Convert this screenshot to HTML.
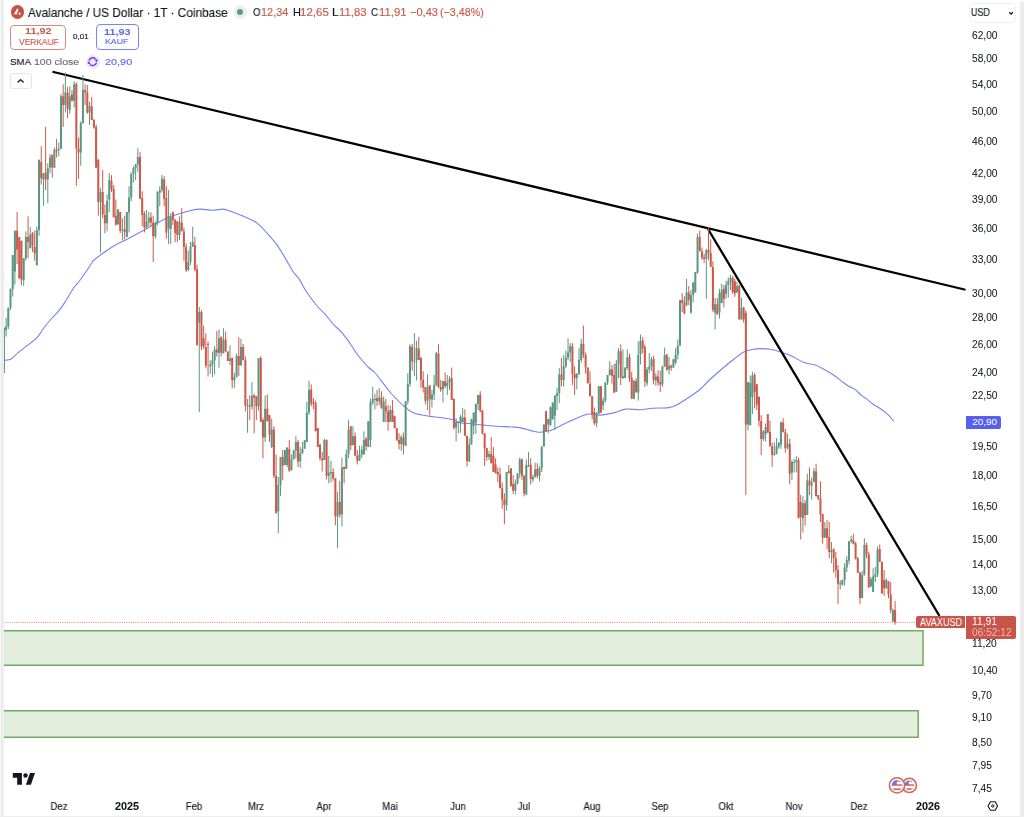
<!DOCTYPE html>
<html><head><meta charset="utf-8">
<style>
*{margin:0;padding:0;box-sizing:border-box}
html,body{width:1024px;height:817px;overflow:hidden;background:#fff}
body{position:relative;font-family:"Liberation Sans",sans-serif;color:#131722}
.abs{position:absolute}
.t{position:absolute;white-space:nowrap;transform-origin:0 0;will-change:transform;-webkit-text-stroke:0.15px}
.pl{position:absolute;left:972px;height:12px;line-height:12px;font-size:10px;color:#131722;white-space:nowrap}
.tl{position:absolute;top:800px;width:60px;text-align:center;height:12px;line-height:12px;font-size:10px;color:#131722}
.tl.b{font-weight:bold}
svg{position:absolute;left:0;top:0}
</style></head><body>
<svg width="1024" height="817" viewBox="0 0 1024 817">
<rect x="-2" y="630.75" width="925" height="34.5" fill="#e2eddc" stroke="#72ad61" stroke-width="1.5"/><rect x="-2" y="710.75" width="920.25" height="26.5" fill="#e2eddc" stroke="#72ad61" stroke-width="1.5"/><line x1="3" y1="622.5" x2="916" y2="622.5" stroke="#e08a80" stroke-width="1" stroke-dasharray="1 1.2"/><path d="M4.75 360.25C5.83 360.04 8.92 360.36 11.25 359.00C13.58 357.64 14.58 355.53 18.75 352.10C22.92 348.67 32.19 342.25 36.25 338.40C40.31 334.55 40.64 332.23 43.10 329.00C45.56 325.77 48.39 322.02 51.00 319.00C53.61 315.98 56.42 313.72 58.75 310.90C61.08 308.08 62.50 305.96 65.00 302.10C67.50 298.24 71.25 291.39 73.75 287.75C76.25 284.11 77.08 284.21 80.00 280.25C82.92 276.29 88.92 267.38 91.25 264.00C93.58 260.62 90.26 263.00 94.00 260.00C97.74 257.00 108.03 249.54 113.70 246.00C119.37 242.46 122.91 241.42 128.00 238.75C133.09 236.08 138.00 233.33 144.25 230.00C150.50 226.67 159.25 221.57 165.50 218.75C171.75 215.93 177.17 214.56 181.75 213.10C186.33 211.64 189.88 210.67 193.00 210.00C196.12 209.33 197.17 209.06 200.50 209.10C203.83 209.14 209.25 210.25 213.00 210.25C216.75 210.25 220.08 208.93 223.00 209.10C225.92 209.27 227.58 210.27 230.50 211.25C233.42 212.23 237.25 213.68 240.50 215.00C243.75 216.32 247.23 217.85 250.00 219.20C252.77 220.55 254.43 220.97 257.10 223.10C259.77 225.23 262.75 228.45 266.00 232.00C269.25 235.55 273.35 239.97 276.60 244.40C279.85 248.83 282.83 254.17 285.50 258.60C288.17 263.03 290.23 267.45 292.60 271.00C294.97 274.55 297.33 276.35 299.70 279.90C302.07 283.45 303.83 287.87 306.80 292.30C309.77 296.73 314.53 302.95 317.50 306.50C320.47 310.05 321.95 310.63 324.60 313.60C327.25 316.57 330.45 321.05 333.40 324.30C336.35 327.55 339.48 329.85 342.30 333.10C345.12 336.35 348.02 340.57 350.30 343.80C352.58 347.03 354.43 350.22 356.00 352.50C357.57 354.78 357.67 355.00 359.75 357.50C361.83 360.00 366.00 365.00 368.50 367.50C371.00 370.00 372.17 369.68 374.75 372.50C377.33 375.32 381.21 380.86 384.00 384.40C386.79 387.94 388.17 390.11 391.50 393.75C394.83 397.39 400.25 403.02 404.00 406.25C407.75 409.48 409.83 411.43 414.00 413.10C418.17 414.77 424.62 415.52 429.00 416.25C433.38 416.98 436.08 416.88 440.25 417.50C444.42 418.12 450.88 419.18 454.00 420.00C457.12 420.82 457.17 421.86 459.00 422.40C460.83 422.94 459.83 422.69 465.00 423.25C470.17 423.81 482.17 425.12 490.00 425.75C497.83 426.38 507.08 426.69 512.00 427.00C516.92 427.31 515.33 426.77 519.50 427.60C523.67 428.43 533.04 431.31 537.00 432.00C540.96 432.69 540.54 432.17 543.25 431.75C545.96 431.33 549.08 431.12 553.25 429.50C557.42 427.88 562.62 424.54 568.25 422.00C573.88 419.46 581.79 415.40 587.00 414.25C592.21 413.10 594.92 415.38 599.50 415.10C604.08 414.83 610.12 413.60 614.50 412.60C618.88 411.60 621.50 409.57 625.75 409.10C630.00 408.63 635.54 409.94 640.00 409.80C644.46 409.66 647.71 408.62 652.50 408.25C657.29 407.88 664.58 408.23 668.75 407.60C672.92 406.98 674.38 406.06 677.50 404.50C680.62 402.94 683.75 400.75 687.50 398.25C691.25 395.75 696.25 392.62 700.00 389.50C703.75 386.38 706.46 382.83 710.00 379.50C713.54 376.17 717.08 373.04 721.25 369.50C725.42 365.96 731.25 361.17 735.00 358.25C738.75 355.33 740.83 353.46 743.75 352.00C746.67 350.54 749.79 350.07 752.50 349.50C755.21 348.93 757.04 348.64 760.00 348.60C762.96 348.56 766.88 348.73 770.25 349.25C773.62 349.77 776.71 350.61 780.25 351.75C783.79 352.89 787.54 354.33 791.50 356.10C795.46 357.88 800.00 360.90 804.00 362.40C808.00 363.90 812.05 363.88 815.50 365.10C818.95 366.32 821.63 368.02 824.70 369.70C827.77 371.38 831.00 373.22 833.90 375.20C836.80 377.18 839.65 379.77 842.10 381.60C844.55 383.43 846.45 384.90 848.60 386.20C850.75 387.50 852.87 387.87 855.00 389.40C857.13 390.93 859.42 393.78 861.40 395.40C863.38 397.02 865.07 397.72 866.90 399.10C868.73 400.48 870.25 402.17 872.40 403.70C874.55 405.23 877.20 406.47 879.80 408.30C882.40 410.13 885.63 412.48 888.00 414.70C890.37 416.92 893.00 420.45 894.00 421.60" fill="none" stroke="#7582f2" stroke-width="1.1"/><line x1="53.5" y1="72" x2="964.5" y2="289.5" stroke="#000" stroke-width="2.3" stroke-linecap="round"/><line x1="708" y1="229" x2="939.5" y2="616" stroke="#000" stroke-width="2.3"/><path d="M3.93 327.75V373.00M6.12 317.75V336.50M8.31 307.75V329.00M10.51 288.38V310.25M12.70 255.12V296.50M14.90 230.75V284.62M23.68 258.25V285.88M25.88 231.38V260.75M30.27 227.00V248.25M36.85 226.38V265.25M39.05 159.38V235.75M43.44 173.25V205.75M47.82 163.25V203.25M50.02 153.75V173.25M54.41 147.50V167.62M58.80 142.50V156.25M60.99 93.75V148.75M65.38 72.50V112.50M69.77 86.25V113.75M74.16 81.25V107.50M80.75 121.25V165.75M82.94 75.00V123.75M89.53 101.88V125.00M100.50 188.25V252.62M107.09 194.50V231.38M109.28 173.25V212.00M118.06 209.50V224.50M122.45 218.25V240.12M126.84 212.00V237.00M129.04 186.25V232.50M131.23 172.50V201.25M133.43 166.25V182.50M135.62 163.75V180.00M137.82 148.12V172.50M146.60 210.00V228.75M148.79 211.88V226.25M155.38 221.25V238.75M157.57 191.25V225.00M159.77 186.25V206.25M161.96 175.00V192.50M168.55 190.00V243.88M170.75 213.12V243.88M179.52 216.25V240.00M188.31 250.75V271.38M190.50 242.00V265.12M192.69 226.88V247.00M199.28 307.00V412.12M210.25 360.25V374.00M212.45 351.50V377.12M214.64 345.88V374.62M219.03 329.50V367.75M223.43 328.25V353.38M230.01 345.25V365.25M234.40 372.75V387.75M236.59 353.38V377.12M240.98 338.88V365.88M247.57 399.00V432.75M251.96 382.12V409.62M258.54 358.12V410.62M265.13 395.62V442.00M271.71 418.75V448.25M278.30 477.00V533.25M280.50 457.00V495.75M284.88 450.12V465.12M287.08 447.62V467.00M291.47 454.50V470.75M293.66 449.50V459.50M295.86 436.25V458.25M300.25 447.00V467.62M302.44 442.00V453.88M304.64 440.00V448.88M306.83 401.88V442.00M309.03 380.62V415.00M324.39 438.75V460.12M328.78 455.75V483.25M330.98 460.75V482.62M337.56 492.00V548.00M341.95 457.62V526.38M346.34 449.50V468.88M348.54 420.00V458.25M352.93 426.25V445.12M359.51 445.75V460.75M361.71 445.75V458.25M363.90 431.25V454.50M368.30 421.25V447.00M370.49 398.75V447.00M372.69 386.88V405.00M374.88 393.75V409.38M379.27 388.12V405.00M383.66 396.25V422.00M390.25 405.62V422.00M401.22 435.12V450.75M405.61 401.25V445.75M407.81 373.12V404.38M410.00 344.38V386.88M414.39 333.12V376.25M416.58 340.62V380.62M427.56 374.38V410.00M431.95 390.00V407.50M434.14 375.00V400.00M436.34 351.88V386.25M442.93 380.62V402.50M447.31 375.00V395.00M449.51 376.25V390.00M456.09 418.12V441.38M458.29 422.00V433.25M460.48 415.00V432.62M462.68 408.12V422.00M469.26 438.25V462.00M471.46 418.75V444.50M473.65 412.50V434.50M475.85 403.75V433.88M478.04 395.00V410.00M489.02 450.75V460.12M506.58 472.00V510.75M508.77 465.12V473.25M515.36 479.50V494.50M517.55 473.25V484.50M519.75 457.62V478.25M526.33 459.50V495.12M528.53 452.00V467.00M532.92 474.50V482.00M535.11 462.62V477.62M539.50 466.38V481.38M541.70 445.75V472.00M543.89 424.50V446.38M548.28 418.88V433.25M550.48 406.25V425.75M552.67 402.50V419.50M554.87 395.62V429.50M557.06 387.50V410.00M559.26 368.12V403.12M563.65 355.00V386.88M565.84 350.62V368.12M568.04 338.12V360.00M570.23 343.12V361.88M576.82 373.12V389.38M579.01 348.12V375.00M581.21 338.75V362.50M596.57 412.00V427.00M598.77 386.25V413.88M603.16 397.50V410.00M605.35 382.50V402.50M607.55 375.00V385.00M609.74 361.25V375.62M616.33 360.00V391.88M618.52 348.12V378.12M622.91 349.38V378.75M625.11 367.50V378.12M627.30 349.38V370.00M633.89 380.62V399.38M638.28 341.25V400.62M640.47 334.50V364.50M647.06 367.00V385.75M649.25 353.25V373.25M651.45 357.00V370.75M655.84 373.25V385.75M662.42 365.75V387.00M664.62 347.62V367.00M669.01 357.00V374.50M673.40 358.88V368.25M675.59 348.25V364.50M677.79 339.50V359.50M679.98 300.00V345.75M686.57 278.75V306.25M690.96 290.00V313.88M693.15 282.50V302.50M695.35 271.88V292.50M697.54 233.75V273.75M706.32 248.75V298.75M715.10 298.00V329.50M719.49 288.75V318.62M721.69 283.75V303.12M726.08 280.62V298.75M728.27 277.50V297.50M730.47 275.00V290.00M737.05 281.88V293.12M741.44 298.00V319.88M748.03 382.00V430.25M750.22 375.50V425.25M752.42 371.75V414.00M763.39 430.25V440.88M765.59 423.38V441.50M774.37 442.50V455.62M776.56 438.12V454.38M778.76 441.88V448.75M780.95 421.25V448.75M787.54 433.75V449.38M791.93 460.00V480.00M794.12 458.75V472.50M796.32 456.25V472.50M802.90 496.25V532.62M807.29 473.75V515.12M811.68 477.50V499.38M813.88 468.12V482.50M824.85 522.00V537.62M831.44 542.00V563.25M840.22 580.12V589.50M842.41 579.50V585.75M844.61 563.25V585.75M846.80 555.75V572.00M849.00 540.75V564.50M851.19 535.75V543.25M862.17 570.75V598.25M864.36 538.25V575.75M870.95 577.00V587.00M873.14 568.25V591.88M875.34 567.00V582.00M877.53 546.38V577.00M886.31 578.25V588.44M892.90 608.44V621.56" stroke="#5a9682" stroke-width="1" fill="none"/><path d="M17.09 212.00V264.00M19.29 237.00V278.38M21.48 240.75V285.25M28.07 216.38V258.25M32.46 232.00V252.00M34.66 230.75V260.75M41.24 146.25V184.50M45.63 126.88V190.12M52.21 154.38V177.62M56.60 138.75V157.50M63.19 84.38V126.88M67.58 86.88V118.12M71.97 90.00V101.25M76.36 82.50V185.75M78.55 137.50V178.88M85.14 84.38V105.00M87.33 85.00V113.75M91.72 96.88V120.00M93.92 118.75V128.75M96.11 124.38V167.62M98.31 158.75V215.75M102.70 170.12V218.25M104.89 204.50V233.25M111.48 175.12V192.00M113.67 185.12V217.62M115.87 199.50V225.75M120.26 212.00V233.25M124.65 215.75V239.50M140.01 151.88V198.75M142.21 191.25V226.25M144.40 211.25V232.50M150.99 212.50V226.25M153.19 215.62V262.00M164.16 176.25V206.25M166.35 186.25V238.75M172.94 211.25V225.00M175.13 218.75V242.00M177.33 221.25V242.00M181.72 208.12V231.25M183.91 227.50V260.75M186.11 243.25V272.00M194.89 236.88V271.38M197.08 264.50V345.25M201.47 310.12V350.25M203.67 325.75V349.00M205.87 333.25V368.38M208.06 341.38V376.50M216.84 330.75V356.50M221.23 336.38V356.50M225.62 331.38V351.50M227.81 351.50V360.88M232.20 357.75V388.38M238.79 337.00V375.88M243.18 344.00V360.25M245.38 356.50V411.50M249.76 395.25V420.25M254.15 394.00V433.38M256.35 396.25V420.00M260.74 356.25V421.88M262.94 418.12V458.25M267.32 394.38V421.25M269.52 415.00V442.00M273.91 426.25V478.25M276.10 454.50V513.88M282.69 450.12V480.12M289.27 440.00V472.00M298.06 440.00V467.00M311.22 384.38V406.25M313.42 398.12V409.38M315.62 400.62V431.25M317.81 428.12V447.00M320.00 444.50V460.75M322.20 452.00V471.38M326.59 439.38V479.50M333.18 468.25V480.75M335.37 478.25V525.12M339.76 480.75V517.62M344.15 466.38V483.25M350.74 426.25V450.12M355.12 432.50V455.75M357.32 450.12V464.50M366.10 436.88V450.75M377.07 390.00V406.25M381.46 391.25V408.75M385.85 398.75V422.00M388.05 405.00V430.75M392.44 400.00V422.00M394.63 415.62V428.25M396.83 428.25V440.75M399.02 433.25V449.50M403.41 432.62V454.50M412.19 343.75V370.62M418.78 336.88V360.00M420.97 356.88V388.12M423.17 371.25V392.50M425.37 386.88V404.38M429.75 385.00V415.62M438.53 344.38V388.12M440.73 380.00V391.88M445.12 372.50V388.12M451.70 367.50V400.00M453.90 398.75V429.50M464.88 409.38V435.75M467.07 435.75V466.38M480.24 391.25V412.50M482.44 410.00V434.50M484.63 433.25V465.75M486.82 447.62V460.75M491.21 437.00V463.25M493.41 447.00V472.00M495.60 458.25V473.25M497.80 467.62V482.00M500.00 467.62V488.25M502.19 482.62V508.88M504.38 493.25V524.00M510.97 468.25V487.00M513.16 475.12V493.88M521.94 458.25V480.12M524.14 475.12V496.38M530.72 458.25V484.50M537.31 463.25V478.25M546.09 410.62V431.38M561.45 358.12V386.25M572.43 343.12V385.00M574.62 366.25V395.00M583.40 325.62V358.12M585.60 352.50V373.75M587.79 367.50V383.75M589.99 371.25V396.25M592.18 396.25V419.50M594.38 407.50V425.12M600.96 386.25V412.62M611.94 365.00V383.75M614.13 363.75V393.12M620.72 344.38V385.00M629.50 353.75V381.88M631.69 371.88V398.75M636.08 378.12V393.12M642.67 337.00V353.25M644.86 344.50V387.00M653.64 355.75V384.50M658.03 370.12V385.75M660.23 370.75V392.00M666.81 354.50V370.75M671.20 364.50V370.75M682.18 293.12V312.00M684.37 296.25V314.50M688.76 286.25V305.00M699.74 230.62V251.25M701.93 247.50V260.00M704.13 253.75V263.12M708.52 227.00V260.00M710.71 239.38V266.88M712.91 261.25V312.00M717.30 298.00V314.50M723.88 285.00V307.38M732.66 276.25V293.75M734.86 278.75V296.88M739.25 285.00V319.88M743.64 306.75V322.62M745.83 310.50V495.25M754.61 373.00V408.25M756.81 383.88V410.12M759.00 396.75V426.50M761.20 415.25V455.25M767.78 414.00V432.75M769.98 420.62V446.25M772.17 442.50V466.88M783.15 418.12V432.50M785.34 428.75V452.50M789.73 438.75V484.38M798.51 457.50V518.25M800.71 495.00V539.50M805.10 500.00V525.75M809.49 467.50V495.00M816.07 463.75V496.25M818.27 495.00V500.00M820.46 481.25V522.00M822.66 513.88V543.88M827.05 520.12V548.88M829.24 522.00V558.25M833.63 548.25V572.62M835.83 552.00V577.62M838.02 565.12V604.00M853.39 533.88V544.50M855.58 542.00V559.50M857.78 557.00V572.62M859.97 572.00V604.00M866.56 542.62V558.25M868.75 552.00V587.62M879.73 544.50V562.00M881.92 561.38V593.44M884.12 570.12V595.94M888.51 581.25V598.12M890.70 582.19V613.12M895.09 600.94V624.69" stroke="#cc594b" stroke-width="1" fill="none"/><path d="M2.93 327.75h2.0v45.25h-2.0zM5.12 326.50h2.0v3.75h-2.0zM7.31 307.75h2.0v18.75h-2.0zM9.51 289.00h2.0v18.75h-2.0zM11.70 255.12h2.0v33.88h-2.0zM13.90 230.75h2.0v40.75h-2.0zM22.68 258.25h2.0v21.38h-2.0zM24.88 237.00h2.0v21.25h-2.0zM29.27 234.50h2.0v13.75h-2.0zM35.85 230.12h2.0v35.12h-2.0zM38.05 160.00h2.0v70.12h-2.0zM42.44 173.25h2.0v6.25h-2.0zM46.82 168.25h2.0v11.25h-2.0zM49.02 157.50h2.0v10.12h-2.0zM53.41 149.38h2.0v18.25h-2.0zM57.80 148.75h2.0v1.25h-2.0zM59.99 96.25h2.0v52.50h-2.0zM64.38 92.50h2.0v12.50h-2.0zM68.77 96.25h2.0v13.75h-2.0zM73.16 84.38h2.0v16.25h-2.0zM79.75 123.12h2.0v29.38h-2.0zM81.94 90.00h2.0v33.12h-2.0zM88.53 106.25h2.0v6.25h-2.0zM99.50 192.00h2.0v10.00h-2.0zM106.09 200.75h2.0v22.50h-2.0zM108.28 180.12h2.0v19.38h-2.0zM117.06 209.50h2.0v15.00h-2.0zM121.45 229.50h2.0v1.25h-2.0zM125.84 212.00h2.0v25.00h-2.0zM128.04 197.50h2.0v15.00h-2.0zM130.23 173.75h2.0v23.75h-2.0zM132.43 168.12h2.0v5.62h-2.0zM134.62 164.38h2.0v3.75h-2.0zM136.82 156.88h2.0v7.50h-2.0zM145.60 221.88h2.0v5.62h-2.0zM147.79 217.50h2.0v5.00h-2.0zM154.38 223.12h2.0v13.12h-2.0zM156.57 191.88h2.0v31.25h-2.0zM158.77 190.00h2.0v2.50h-2.0zM160.96 178.75h2.0v11.25h-2.0zM167.55 216.25h2.0v12.50h-2.0zM169.75 217.50h2.0v11.25h-2.0zM178.52 222.50h2.0v12.50h-2.0zM187.31 262.00h2.0v8.12h-2.0zM189.50 246.38h2.0v15.62h-2.0zM191.69 242.00h2.0v4.38h-2.0zM198.28 312.00h2.0v10.62h-2.0zM209.25 364.62h2.0v1.88h-2.0zM211.45 360.25h2.0v4.38h-2.0zM213.64 349.62h2.0v10.62h-2.0zM218.03 338.25h2.0v14.50h-2.0zM222.43 339.50h2.0v13.88h-2.0zM229.01 358.38h2.0v2.50h-2.0zM233.40 377.12h2.0v3.12h-2.0zM235.59 355.88h2.0v21.25h-2.0zM239.98 347.12h2.0v18.12h-2.0zM246.57 405.25h2.0v1.00h-2.0zM250.96 395.88h2.0v10.62h-2.0zM257.54 358.12h2.0v48.12h-2.0zM264.13 408.75h2.0v28.75h-2.0zM270.71 429.38h2.0v17.62h-2.0zM277.30 485.12h2.0v26.25h-2.0zM279.50 457.00h2.0v28.12h-2.0zM283.88 450.12h2.0v15.00h-2.0zM286.08 447.62h2.0v17.50h-2.0zM290.47 459.50h2.0v10.62h-2.0zM292.66 450.75h2.0v8.75h-2.0zM294.86 442.00h2.0v8.75h-2.0zM299.25 453.25h2.0v8.12h-2.0zM301.44 448.88h2.0v4.38h-2.0zM303.64 440.62h2.0v8.25h-2.0zM305.83 412.50h2.0v29.50h-2.0zM308.03 390.00h2.0v22.50h-2.0zM323.39 440.00h2.0v20.12h-2.0zM327.78 472.62h2.0v3.12h-2.0zM329.98 472.00h2.0v1.25h-2.0zM336.56 502.00h2.0v14.38h-2.0zM340.95 467.62h2.0v46.88h-2.0zM345.34 453.88h2.0v15.00h-2.0zM347.54 429.38h2.0v24.50h-2.0zM351.93 436.25h2.0v8.88h-2.0zM358.51 454.50h2.0v6.25h-2.0zM360.71 450.12h2.0v4.38h-2.0zM362.90 440.00h2.0v14.50h-2.0zM367.30 421.25h2.0v25.75h-2.0zM369.49 401.88h2.0v38.12h-2.0zM371.69 398.75h2.0v3.75h-2.0zM373.88 398.75h2.0v1.25h-2.0zM378.27 397.50h2.0v3.75h-2.0zM382.66 401.25h2.0v20.75h-2.0zM389.25 410.00h2.0v12.00h-2.0zM400.22 437.00h2.0v6.88h-2.0zM404.61 401.25h2.0v44.50h-2.0zM406.81 383.75h2.0v17.50h-2.0zM409.00 346.25h2.0v37.50h-2.0zM413.39 361.00h2.0v1.00h-2.0zM415.58 348.12h2.0v12.50h-2.0zM426.56 386.88h2.0v13.75h-2.0zM430.95 394.38h2.0v5.00h-2.0zM433.14 385.00h2.0v9.38h-2.0zM435.34 353.12h2.0v31.88h-2.0zM441.93 381.25h2.0v8.12h-2.0zM446.31 382.50h2.0v3.75h-2.0zM448.51 378.75h2.0v3.75h-2.0zM455.09 422.00h2.0v5.62h-2.0zM457.29 422.00h2.0v1.00h-2.0zM459.48 416.88h2.0v5.75h-2.0zM461.68 417.50h2.0v4.50h-2.0zM468.26 444.50h2.0v16.88h-2.0zM470.46 419.38h2.0v25.12h-2.0zM472.65 412.50h2.0v13.25h-2.0zM474.85 403.75h2.0v18.88h-2.0zM477.04 395.00h2.0v8.75h-2.0zM488.02 453.88h2.0v3.12h-2.0zM505.58 472.00h2.0v33.12h-2.0zM507.77 470.75h2.0v2.50h-2.0zM514.36 483.25h2.0v7.50h-2.0zM516.55 473.25h2.0v10.00h-2.0zM518.75 459.50h2.0v13.75h-2.0zM525.33 465.12h2.0v29.38h-2.0zM527.53 465.75h2.0v1.25h-2.0zM531.92 477.00h2.0v2.50h-2.0zM534.11 469.50h2.0v7.50h-2.0zM538.50 468.25h2.0v7.50h-2.0zM540.70 447.00h2.0v21.25h-2.0zM542.89 424.50h2.0v21.88h-2.0zM547.28 418.88h2.0v5.62h-2.0zM549.48 407.50h2.0v17.62h-2.0zM551.67 402.50h2.0v17.00h-2.0zM553.87 395.62h2.0v20.12h-2.0zM556.06 393.12h2.0v3.12h-2.0zM558.26 374.38h2.0v18.75h-2.0zM562.65 366.25h2.0v13.75h-2.0zM564.84 357.50h2.0v8.75h-2.0zM567.04 352.50h2.0v5.00h-2.0zM569.23 346.25h2.0v6.25h-2.0zM575.82 373.75h2.0v4.38h-2.0zM578.01 360.00h2.0v13.75h-2.0zM580.21 343.75h2.0v16.25h-2.0zM595.57 413.25h2.0v10.00h-2.0zM597.77 386.25h2.0v27.62h-2.0zM602.16 400.62h2.0v5.00h-2.0zM604.35 382.50h2.0v18.12h-2.0zM606.55 375.00h2.0v7.50h-2.0zM608.74 369.38h2.0v5.62h-2.0zM615.33 363.75h2.0v28.12h-2.0zM617.52 351.25h2.0v12.50h-2.0zM621.91 376.25h2.0v1.88h-2.0zM624.11 367.50h2.0v10.62h-2.0zM626.30 357.50h2.0v10.62h-2.0zM632.89 380.62h2.0v18.12h-2.0zM637.28 355.00h2.0v37.50h-2.0zM639.47 340.75h2.0v13.75h-2.0zM646.06 369.50h2.0v13.75h-2.0zM648.25 366.38h2.0v3.12h-2.0zM650.45 359.50h2.0v6.88h-2.0zM654.84 376.38h2.0v3.75h-2.0zM661.42 366.38h2.0v18.12h-2.0zM663.62 355.12h2.0v11.25h-2.0zM668.01 365.75h2.0v3.75h-2.0zM672.40 359.50h2.0v8.12h-2.0zM674.59 354.50h2.0v8.12h-2.0zM676.79 345.75h2.0v8.75h-2.0zM678.98 300.00h2.0v45.75h-2.0zM685.57 292.50h2.0v12.50h-2.0zM689.96 295.00h2.0v17.62h-2.0zM692.15 282.50h2.0v12.50h-2.0zM694.35 271.88h2.0v20.62h-2.0zM696.54 236.88h2.0v35.62h-2.0zM705.32 250.00h2.0v8.75h-2.0zM714.10 304.25h2.0v8.38h-2.0zM718.49 293.12h2.0v19.50h-2.0zM720.69 290.00h2.0v13.00h-2.0zM725.08 285.00h2.0v8.75h-2.0zM727.27 281.25h2.0v3.75h-2.0zM729.47 278.12h2.0v3.75h-2.0zM736.05 286.25h2.0v6.25h-2.0zM740.44 308.12h2.0v11.12h-2.0zM747.03 382.00h2.0v42.62h-2.0zM749.22 383.00h2.0v42.25h-2.0zM751.42 375.50h2.0v21.50h-2.0zM762.39 431.50h2.0v7.50h-2.0zM764.59 427.12h2.0v6.88h-2.0zM773.37 453.75h2.0v1.25h-2.0zM775.56 446.25h2.0v7.50h-2.0zM777.76 443.12h2.0v3.75h-2.0zM779.95 422.50h2.0v21.88h-2.0zM786.54 443.75h2.0v3.75h-2.0zM790.93 461.88h2.0v10.62h-2.0zM793.12 461.88h2.0v1.00h-2.0zM795.32 460.00h2.0v1.88h-2.0zM801.90 503.25h2.0v15.00h-2.0zM806.29 480.62h2.0v34.50h-2.0zM810.68 482.50h2.0v3.12h-2.0zM812.88 471.25h2.0v10.62h-2.0zM823.85 528.25h2.0v9.38h-2.0zM830.44 550.75h2.0v1.25h-2.0zM839.22 583.25h2.0v1.25h-2.0zM841.41 580.12h2.0v4.38h-2.0zM843.61 567.62h2.0v12.50h-2.0zM845.80 560.12h2.0v7.50h-2.0zM848.00 541.38h2.0v19.38h-2.0zM850.19 539.50h2.0v1.88h-2.0zM861.17 574.50h2.0v23.62h-2.0zM863.36 545.12h2.0v29.38h-2.0zM869.95 578.88h2.0v7.38h-2.0zM872.14 576.38h2.0v15.50h-2.0zM874.34 574.50h2.0v2.50h-2.0zM876.53 549.50h2.0v25.00h-2.0zM885.31 580.00h2.0v8.44h-2.0zM891.90 610.00h2.0v11.56h-2.0z" fill="#5a9682"/><path d="M16.09 230.75h2.0v18.75h-2.0zM18.29 237.00h2.0v41.38h-2.0zM20.48 240.75h2.0v38.88h-2.0zM27.07 237.00h2.0v5.00h-2.0zM31.46 233.25h2.0v12.50h-2.0zM33.66 247.00h2.0v6.25h-2.0zM40.24 162.00h2.0v16.25h-2.0zM44.63 172.62h2.0v6.88h-2.0zM51.21 155.00h2.0v12.62h-2.0zM55.60 150.00h2.0v1.25h-2.0zM62.19 96.25h2.0v8.75h-2.0zM66.58 92.50h2.0v16.25h-2.0zM70.97 94.38h2.0v6.25h-2.0zM75.36 83.75h2.0v65.00h-2.0zM77.55 148.75h2.0v3.75h-2.0zM84.14 90.00h2.0v2.50h-2.0zM86.33 92.50h2.0v20.00h-2.0zM90.72 106.25h2.0v13.75h-2.0zM92.92 120.00h2.0v7.50h-2.0zM95.11 126.88h2.0v40.75h-2.0zM97.31 160.00h2.0v42.00h-2.0zM101.70 192.00h2.0v22.50h-2.0zM103.89 215.12h2.0v8.12h-2.0zM110.48 180.75h2.0v8.75h-2.0zM112.67 188.88h2.0v28.12h-2.0zM114.87 215.75h2.0v8.75h-2.0zM119.26 212.00h2.0v18.75h-2.0zM123.65 229.50h2.0v2.50h-2.0zM139.01 156.88h2.0v41.88h-2.0zM141.21 198.12h2.0v16.88h-2.0zM143.40 213.75h2.0v13.75h-2.0zM149.99 217.50h2.0v5.00h-2.0zM152.19 222.50h2.0v13.75h-2.0zM163.16 179.38h2.0v19.38h-2.0zM165.35 198.12h2.0v34.38h-2.0zM171.94 212.50h2.0v7.50h-2.0zM174.13 220.00h2.0v13.12h-2.0zM176.33 221.25h2.0v13.75h-2.0zM180.72 222.50h2.0v8.75h-2.0zM182.91 231.25h2.0v15.75h-2.0zM185.11 247.00h2.0v23.12h-2.0zM193.89 245.12h2.0v24.38h-2.0zM196.08 268.88h2.0v76.38h-2.0zM200.47 312.00h2.0v34.50h-2.0zM202.67 338.25h2.0v8.25h-2.0zM204.87 347.12h2.0v18.75h-2.0zM207.06 344.00h2.0v1.00h-2.0zM215.84 349.62h2.0v3.12h-2.0zM220.23 337.00h2.0v15.75h-2.0zM224.62 339.50h2.0v12.00h-2.0zM226.81 351.50h2.0v9.38h-2.0zM231.20 357.75h2.0v22.50h-2.0zM237.79 355.88h2.0v9.38h-2.0zM242.18 347.12h2.0v13.12h-2.0zM244.38 360.25h2.0v45.62h-2.0zM248.76 405.25h2.0v1.25h-2.0zM253.15 395.25h2.0v2.50h-2.0zM255.35 396.25h2.0v10.00h-2.0zM259.74 358.12h2.0v63.75h-2.0zM261.94 420.00h2.0v17.50h-2.0zM266.32 408.75h2.0v12.50h-2.0zM268.52 415.00h2.0v20.00h-2.0zM272.91 429.38h2.0v46.38h-2.0zM275.10 475.75h2.0v36.88h-2.0zM281.69 457.00h2.0v8.75h-2.0zM288.27 448.88h2.0v21.88h-2.0zM297.06 442.00h2.0v19.38h-2.0zM310.22 389.38h2.0v14.38h-2.0zM312.42 402.50h2.0v1.25h-2.0zM314.62 403.12h2.0v28.12h-2.0zM316.81 428.12h2.0v18.88h-2.0zM319.00 444.50h2.0v13.75h-2.0zM321.20 458.25h2.0v1.88h-2.0zM325.59 440.00h2.0v35.75h-2.0zM332.18 472.00h2.0v6.25h-2.0zM334.37 478.25h2.0v38.12h-2.0zM338.76 502.00h2.0v12.50h-2.0zM343.15 467.00h2.0v1.88h-2.0zM349.74 426.25h2.0v18.88h-2.0zM354.12 436.25h2.0v19.50h-2.0zM356.32 455.75h2.0v5.00h-2.0zM365.10 438.75h2.0v7.62h-2.0zM376.07 398.12h2.0v3.12h-2.0zM380.46 397.50h2.0v10.62h-2.0zM384.85 406.25h2.0v5.00h-2.0zM387.05 411.25h2.0v10.75h-2.0zM391.44 410.00h2.0v12.00h-2.0zM393.63 416.25h2.0v12.00h-2.0zM395.83 428.25h2.0v11.88h-2.0zM398.02 440.12h2.0v3.75h-2.0zM402.41 437.62h2.0v7.50h-2.0zM411.19 346.88h2.0v14.38h-2.0zM417.78 348.75h2.0v11.25h-2.0zM419.97 358.12h2.0v21.88h-2.0zM422.17 380.00h2.0v7.50h-2.0zM424.37 386.88h2.0v13.75h-2.0zM428.75 385.62h2.0v13.75h-2.0zM437.53 353.75h2.0v33.12h-2.0zM439.73 386.88h2.0v2.50h-2.0zM444.12 381.25h2.0v5.00h-2.0zM450.70 378.12h2.0v21.88h-2.0zM452.90 398.75h2.0v28.88h-2.0zM463.88 417.50h2.0v18.25h-2.0zM466.07 435.75h2.0v25.62h-2.0zM479.24 394.38h2.0v16.25h-2.0zM481.44 410.62h2.0v22.62h-2.0zM483.63 433.25h2.0v15.00h-2.0zM485.82 448.25h2.0v8.75h-2.0zM490.21 453.88h2.0v9.38h-2.0zM492.41 455.75h2.0v16.25h-2.0zM494.60 464.50h2.0v8.75h-2.0zM496.80 472.00h2.0v2.50h-2.0zM499.00 474.50h2.0v13.75h-2.0zM501.19 488.25h2.0v11.25h-2.0zM503.38 499.50h2.0v5.62h-2.0zM509.97 468.25h2.0v17.50h-2.0zM512.16 483.88h2.0v6.88h-2.0zM520.94 459.50h2.0v16.25h-2.0zM523.14 475.75h2.0v17.50h-2.0zM529.72 464.50h2.0v14.38h-2.0zM536.31 468.88h2.0v6.88h-2.0zM545.09 411.25h2.0v20.12h-2.0zM560.45 374.38h2.0v5.62h-2.0zM571.43 346.25h2.0v27.50h-2.0zM573.62 373.75h2.0v4.38h-2.0zM582.40 343.75h2.0v11.25h-2.0zM584.60 355.00h2.0v12.50h-2.0zM586.79 367.50h2.0v15.62h-2.0zM588.99 383.75h2.0v12.50h-2.0zM591.18 396.25h2.0v18.25h-2.0zM593.38 412.00h2.0v11.25h-2.0zM599.96 386.25h2.0v26.38h-2.0zM610.94 369.38h2.0v6.25h-2.0zM613.13 375.00h2.0v17.50h-2.0zM619.72 351.25h2.0v26.25h-2.0zM628.50 356.88h2.0v21.25h-2.0zM630.69 378.12h2.0v20.62h-2.0zM635.08 381.25h2.0v10.62h-2.0zM641.67 340.75h2.0v7.50h-2.0zM643.86 347.00h2.0v34.38h-2.0zM652.64 358.88h2.0v21.25h-2.0zM657.03 376.38h2.0v6.25h-2.0zM659.23 382.00h2.0v2.50h-2.0zM665.81 354.50h2.0v15.00h-2.0zM670.20 365.75h2.0v1.88h-2.0zM681.18 300.00h2.0v3.12h-2.0zM683.37 302.50h2.0v10.75h-2.0zM687.76 292.50h2.0v7.50h-2.0zM698.74 236.88h2.0v14.38h-2.0zM700.93 251.25h2.0v6.25h-2.0zM703.13 256.88h2.0v1.88h-2.0zM707.52 250.00h2.0v3.12h-2.0zM709.71 253.12h2.0v13.75h-2.0zM711.91 266.88h2.0v43.12h-2.0zM716.30 304.25h2.0v10.25h-2.0zM722.88 288.75h2.0v9.88h-2.0zM731.66 277.50h2.0v14.38h-2.0zM733.86 281.25h2.0v11.88h-2.0zM738.25 285.62h2.0v33.62h-2.0zM742.64 307.38h2.0v12.12h-2.0zM744.83 313.00h2.0v111.62h-2.0zM753.61 374.88h2.0v17.12h-2.0zM755.81 384.25h2.0v20.25h-2.0zM758.00 396.75h2.0v24.12h-2.0zM760.20 420.88h2.0v18.12h-2.0zM766.78 414.00h2.0v18.75h-2.0zM768.98 431.88h2.0v14.38h-2.0zM771.17 446.25h2.0v8.75h-2.0zM782.15 422.50h2.0v9.38h-2.0zM784.34 431.88h2.0v16.25h-2.0zM788.73 443.75h2.0v30.00h-2.0zM797.51 460.00h2.0v58.25h-2.0zM799.71 502.00h2.0v15.00h-2.0zM804.10 503.25h2.0v11.88h-2.0zM808.49 480.62h2.0v5.00h-2.0zM815.07 471.25h2.0v25.00h-2.0zM817.27 495.00h2.0v3.75h-2.0zM819.46 498.75h2.0v15.75h-2.0zM821.66 513.88h2.0v23.75h-2.0zM826.05 528.25h2.0v9.38h-2.0zM828.24 537.00h2.0v15.00h-2.0zM832.63 548.88h2.0v9.38h-2.0zM834.83 558.25h2.0v11.88h-2.0zM837.02 570.12h2.0v13.75h-2.0zM852.39 540.12h2.0v3.75h-2.0zM854.58 543.25h2.0v15.62h-2.0zM856.78 558.25h2.0v14.38h-2.0zM858.97 572.62h2.0v25.50h-2.0zM865.56 545.12h2.0v9.38h-2.0zM867.75 554.50h2.0v33.00h-2.0zM878.73 548.88h2.0v13.12h-2.0zM880.92 562.00h2.0v31.44h-2.0zM883.12 580.00h2.0v8.25h-2.0zM887.51 581.25h2.0v13.12h-2.0zM889.70 594.38h2.0v15.62h-2.0zM894.09 610.00h2.0v11.88h-2.0z" fill="#cc594b"/>
</svg>
<!-- header -->
<div class="abs" style="left:10.75px;top:5.25px;width:13.5px;height:13.5px;border-radius:50%;background:#c2553f"></div>
<svg width="1024" height="30" style="top:0;left:0"><path d="M13.8 14.2 L17.0 8.7 Q17.6 8.1 18.2 8.9 L18.3 9.6 L16.9 14.2 Z M18.2 14.4 L19.6 12.0 L21.0 14.4 Z" fill="#fff"/></svg>
<div class="t" style="left:27.75px;top:5.5px;font-size:13.19px;line-height:13.19px;font-weight:normal;color:#131722;transform:scaleX(0.895);;">Avalanche / US Dollar · 1T · Coinbase</div>
<div class="abs" style="left:233.8px;top:5.4px;width:13.2px;height:13.2px;border-radius:50%;background:#e8f2ef"></div>
<div class="abs" style="left:237.4px;top:9px;width:6px;height:6px;border-radius:50%;background:#5e9a84"></div>
<div class="t" style="left:252.85px;top:6.8px;font-size:10.72px;line-height:10.72px;font-weight:normal;color:#131722;transform:scaleX(0.905);;">O</div><div class="t" style="left:261.44px;top:6.8px;font-size:10.72px;line-height:10.72px;font-weight:normal;color:#cc594b;transform:scaleX(1.017);;">12,34</div><div class="t" style="left:292.68px;top:6.8px;font-size:10.72px;line-height:10.72px;font-weight:normal;color:#131722;transform:scaleX(1.025);;">H</div><div class="t" style="left:300.14px;top:6.8px;font-size:10.72px;line-height:10.72px;font-weight:normal;color:#cc594b;transform:scaleX(1.074);;">12,65</div><div class="t" style="left:332.1px;top:6.8px;font-size:10.72px;line-height:10.72px;font-weight:normal;color:#131722;transform:scaleX(1.122);;">L</div><div class="t" style="left:338.9px;top:6.8px;font-size:10.72px;line-height:10.72px;font-weight:normal;color:#cc594b;transform:scaleX(1.058);;">11,83</div><div class="t" style="left:370.54px;top:6.8px;font-size:10.72px;line-height:10.72px;font-weight:normal;color:#131722;transform:scaleX(0.919);;">C</div><div class="t" style="left:378.9px;top:6.8px;font-size:10.72px;line-height:10.72px;font-weight:normal;color:#cc594b;transform:scaleX(1.058);;">11,91</div><div class="t" style="left:410.48px;top:6.8px;font-size:10.72px;line-height:10.72px;font-weight:normal;color:#cc594b;transform:scaleX(1.031);;">−0,43</div><div class="t" style="left:440.4px;top:6.8px;font-size:10.72px;line-height:10.72px;font-weight:normal;color:#cc594b;transform:scaleX(0.998);;">(−3,48%)</div>
<div class="abs" style="left:10px;top:24.5px;width:55.5px;height:25px;border:1px solid #dc8a80;border-radius:4px"></div>
<div class="t" style="left:25.0px;top:26.7px;font-size:9.13px;line-height:9.13px;font-weight:bold;color:#cc594b;transform:scaleX(1.193);-webkit-text-stroke:0;">11,92</div><div class="t" style="left:18.5px;top:38.2px;font-size:8.48px;line-height:8.48px;font-weight:normal;color:#cc594b;transform:scaleX(0.989);;">VERKAUF</div>
<div class="t" style="left:72.8px;top:33.2px;font-size:8.12px;line-height:8.12px;font-weight:normal;color:#131722;transform:scaleX(0.993);;">0,01</div>
<div class="abs" style="left:95.5px;top:24px;width:43.3px;height:25.75px;border:1px solid #7b83f2;border-radius:4px"></div>
<div class="t" style="left:103.73px;top:26.6px;font-size:9.78px;line-height:9.78px;font-weight:bold;color:#5f6af0;transform:scaleX(1.113);-webkit-text-stroke:0;">11,93</div><div class="t" style="left:104.95px;top:38.2px;font-size:8.12px;line-height:8.12px;font-weight:normal;color:#5f6af0;transform:scaleX(1.082);;">KAUF</div>
<div class="t" style="left:10.21px;top:57.25px;font-size:9.93px;line-height:9.93px;font-weight:normal;color:#131722;transform:scaleX(0.979);;">SMA</div><div class="t" style="left:34.26px;top:57.25px;font-size:9.93px;line-height:9.93px;font-weight:normal;color:#6a6d78;transform:scaleX(1.063);;">100 close</div>
<div class="abs" style="left:85.7px;top:54.8px;width:14.4px;height:14.4px;border-radius:50%;background:#eee8fd"></div>
<svg width="1024" height="80" style="top:0;left:0"><path d="M88.9 60.6 A3.9 3.9 0 0 1 95.4 59.0 M96.5 62.8 A3.9 3.9 0 0 1 90.0 64.4" stroke="#6a3cf0" stroke-width="1.4" fill="none"/><path d="M94.6 59.2 L98.0 59.6 L96.5 62.4 Z M90.8 64.2 L87.4 63.8 L88.9 61.0 Z" fill="#6a3cf0"/></svg>
<div class="t" style="left:105.05px;top:57.25px;font-size:9.93px;line-height:9.93px;font-weight:normal;color:#5f6af0;transform:scaleX(1.096);;">20,90</div>
<div class="abs" style="left:10.25px;top:73px;width:21.25px;height:16px;border:1px solid #e6e6e6;border-radius:3px"></div>
<svg width="1024" height="100" style="top:0;left:0"><path d="M17.6 82.4 L20.6 79.8 L23.6 82.4" stroke="#2a2e39" stroke-width="1.4" fill="none"/></svg>
<!-- right -->
<div class="abs" style="left:968.5px;top:3px;width:47.5px;height:19.5px;border:1px solid #eeeeee;border-radius:4px"></div>
<div class="t" style="left:971.18px;top:8.1px;font-size:10.14px;line-height:10.14px;font-weight:normal;color:#131722;transform:scaleX(0.887);;">USD</div>
<svg width="1024" height="30" style="top:0;left:0"><path d="M1009.3 12.3 L1011.1 14.1 L1012.9 12.3" stroke="#131722" stroke-width="1.3" fill="none"/></svg>
<div class="t" style="left:971.7px;top:30.5px;font-size:10.14px;line-height:10.14px;font-weight:normal;color:#131722;transform:scaleX(1.008);;-webkit-text-stroke:0.05px">62,00</div><div class="t" style="left:971.7px;top:54.23px;font-size:10.14px;line-height:10.14px;font-weight:normal;color:#131722;transform:scaleX(1.008);;-webkit-text-stroke:0.05px">58,00</div><div class="t" style="left:971.7px;top:79.65px;font-size:10.14px;line-height:10.14px;font-weight:normal;color:#131722;transform:scaleX(1.008);;-webkit-text-stroke:0.05px">54,00</div><div class="t" style="left:971.7px;top:107.04px;font-size:10.14px;line-height:10.14px;font-weight:normal;color:#131722;transform:scaleX(1.008);;-webkit-text-stroke:0.05px">50,00</div><div class="t" style="left:971.7px;top:136.7px;font-size:10.14px;line-height:10.14px;font-weight:normal;color:#131722;transform:scaleX(1.008);;-webkit-text-stroke:0.05px">46,00</div><div class="t" style="left:971.7px;top:169.07px;font-size:10.14px;line-height:10.14px;font-weight:normal;color:#131722;transform:scaleX(1.008);;-webkit-text-stroke:0.05px">42,00</div><div class="t" style="left:971.7px;top:195.44px;font-size:10.14px;line-height:10.14px;font-weight:normal;color:#131722;transform:scaleX(1.008);;-webkit-text-stroke:0.05px">39,00</div><div class="t" style="left:971.7px;top:223.92px;font-size:10.14px;line-height:10.14px;font-weight:normal;color:#131722;transform:scaleX(1.008);;-webkit-text-stroke:0.05px">36,00</div><div class="t" style="left:971.7px;top:254.88px;font-size:10.14px;line-height:10.14px;font-weight:normal;color:#131722;transform:scaleX(1.008);;-webkit-text-stroke:0.05px">33,00</div><div class="t" style="left:971.7px;top:288.79px;font-size:10.14px;line-height:10.14px;font-weight:normal;color:#131722;transform:scaleX(1.008);;-webkit-text-stroke:0.05px">30,00</div><div class="t" style="left:971.7px;top:313.34px;font-size:10.14px;line-height:10.14px;font-weight:normal;color:#131722;transform:scaleX(1.008);;-webkit-text-stroke:0.05px">28,00</div><div class="t" style="left:971.7px;top:339.7px;font-size:10.14px;line-height:10.14px;font-weight:normal;color:#131722;transform:scaleX(1.008);;-webkit-text-stroke:0.05px">26,00</div><div class="t" style="left:971.7px;top:368.18px;font-size:10.14px;line-height:10.14px;font-weight:normal;color:#131722;transform:scaleX(1.008);;-webkit-text-stroke:0.05px">24,00</div><div class="t" style="left:971.7px;top:391.15px;font-size:10.14px;line-height:10.14px;font-weight:normal;color:#131722;transform:scaleX(1.008);;-webkit-text-stroke:0.05px">22,50</div><div class="t" style="left:971.7px;top:442.06px;font-size:10.14px;line-height:10.14px;font-weight:normal;color:#131722;transform:scaleX(1.008);;-webkit-text-stroke:0.05px">19,50</div><div class="t" style="left:971.7px;top:470.54px;font-size:10.14px;line-height:10.14px;font-weight:normal;color:#131722;transform:scaleX(1.008);;-webkit-text-stroke:0.05px">18,00</div><div class="t" style="left:971.7px;top:501.5px;font-size:10.14px;line-height:10.14px;font-weight:normal;color:#131722;transform:scaleX(1.008);;-webkit-text-stroke:0.05px">16,50</div><div class="t" style="left:971.7px;top:535.41px;font-size:10.14px;line-height:10.14px;font-weight:normal;color:#131722;transform:scaleX(1.008);;-webkit-text-stroke:0.05px">15,00</div><div class="t" style="left:971.7px;top:559.96px;font-size:10.14px;line-height:10.14px;font-weight:normal;color:#131722;transform:scaleX(1.008);;-webkit-text-stroke:0.05px">14,00</div><div class="t" style="left:971.7px;top:586.33px;font-size:10.14px;line-height:10.14px;font-weight:normal;color:#131722;transform:scaleX(1.008);;-webkit-text-stroke:0.05px">13,00</div><div class="t" style="left:971.7px;top:639.35px;font-size:10.14px;line-height:10.14px;font-weight:normal;color:#131722;transform:scaleX(1.008);;-webkit-text-stroke:0.05px">11,20</div><div class="t" style="left:971.7px;top:665.72px;font-size:10.14px;line-height:10.14px;font-weight:normal;color:#131722;transform:scaleX(1.008);;-webkit-text-stroke:0.05px">10,40</div><div class="t" style="left:971.7px;top:690.51px;font-size:10.14px;line-height:10.14px;font-weight:normal;color:#131722;transform:scaleX(1.008);;-webkit-text-stroke:0.05px">9,70</div><div class="t" style="left:971.7px;top:713.23px;font-size:10.14px;line-height:10.14px;font-weight:normal;color:#131722;transform:scaleX(1.008);;-webkit-text-stroke:0.05px">9,10</div><div class="t" style="left:971.7px;top:737.5px;font-size:10.14px;line-height:10.14px;font-weight:normal;color:#131722;transform:scaleX(1.008);;-webkit-text-stroke:0.05px">8,50</div><div class="t" style="left:971.7px;top:761.3px;font-size:10.14px;line-height:10.14px;font-weight:normal;color:#131722;transform:scaleX(1.008);;-webkit-text-stroke:0.05px">7,95</div><div class="t" style="left:971.7px;top:784.41px;font-size:10.14px;line-height:10.14px;font-weight:normal;color:#131722;transform:scaleX(1.008);;-webkit-text-stroke:0.05px">7,45</div>
<div class="abs" style="left:966.15px;top:415.9px;width:35.15px;height:12.9px;background:#5660ee;border-radius:0 2px 2px 0"></div>
<div class="t" style="left:972.3px;top:416.55px;font-size:9.93px;line-height:9.93px;font-weight:normal;color:#fff;transform:scaleX(1.0);;-webkit-text-stroke:0;will-change:auto;">20,90</div>
<div class="abs" style="left:916.3px;top:615.8px;width:48.5px;height:12.6px;background:#c9554a;border-radius:2px 0 0 2px"></div>
<div class="t" style="left:920.0px;top:618.45px;font-size:10.22px;line-height:10.22px;font-weight:normal;color:#fff;transform:scaleX(0.891);;-webkit-text-stroke:0;will-change:auto;">AVAXUSD</div>
<div class="abs" style="left:966.1px;top:615.8px;width:49.6px;height:23px;background:#c9554a;border-radius:0 2px 2px 0"></div>
<div class="t" style="left:972.0px;top:615.8px;font-size:10.87px;line-height:10.87px;font-weight:normal;color:#fff;transform:scaleX(0.95);;-webkit-text-stroke:0;will-change:auto;">11,91</div><div class="t" style="left:971.83px;top:626.6px;font-size:10.87px;line-height:10.87px;font-weight:normal;color:#ecb9b3;transform:scaleX(0.937);;-webkit-text-stroke:0;will-change:auto;">06:52:12</div>
<!-- bottom -->
<div class="t" style="left:18.50px;width:80px;text-align:center;top:802.4000000000001px;font-size:10.14px;line-height:10.14px;font-weight:normal;transform:scaleX(0.94);transform-origin:center;color:#131722;">Dez</div><div class="t" style="left:86.60px;width:80px;text-align:center;top:802.1px;font-size:10.43px;line-height:10.43px;font-weight:bold;transform:scaleX(1.035);transform-origin:center;color:#131722;-webkit-text-stroke:0.1px">2025</div><div class="t" style="left:154.40px;width:80px;text-align:center;top:802.4000000000001px;font-size:10.14px;line-height:10.14px;font-weight:normal;transform:scaleX(0.94);transform-origin:center;color:#131722;">Feb</div><div class="t" style="left:215.90px;width:80px;text-align:center;top:802.4000000000001px;font-size:10.14px;line-height:10.14px;font-weight:normal;transform:scaleX(0.94);transform-origin:center;color:#131722;">Mrz</div><div class="t" style="left:283.75px;width:80px;text-align:center;top:802.4000000000001px;font-size:10.14px;line-height:10.14px;font-weight:normal;transform:scaleX(0.94);transform-origin:center;color:#131722;">Apr</div><div class="t" style="left:349.75px;width:80px;text-align:center;top:802.4000000000001px;font-size:10.14px;line-height:10.14px;font-weight:normal;transform:scaleX(0.94);transform-origin:center;color:#131722;">Mai</div><div class="t" style="left:417.75px;width:80px;text-align:center;top:802.4000000000001px;font-size:10.14px;line-height:10.14px;font-weight:normal;transform:scaleX(0.94);transform-origin:center;color:#131722;">Jun</div><div class="t" style="left:483.50px;width:80px;text-align:center;top:802.4000000000001px;font-size:10.14px;line-height:10.14px;font-weight:normal;transform:scaleX(0.94);transform-origin:center;color:#131722;">Jul</div><div class="t" style="left:551.60px;width:80px;text-align:center;top:802.4000000000001px;font-size:10.14px;line-height:10.14px;font-weight:normal;transform:scaleX(0.94);transform-origin:center;color:#131722;">Aug</div><div class="t" style="left:619.75px;width:80px;text-align:center;top:802.4000000000001px;font-size:10.14px;line-height:10.14px;font-weight:normal;transform:scaleX(0.94);transform-origin:center;color:#131722;">Sep</div><div class="t" style="left:685.50px;width:80px;text-align:center;top:802.4000000000001px;font-size:10.14px;line-height:10.14px;font-weight:normal;transform:scaleX(0.94);transform-origin:center;color:#131722;">Okt</div><div class="t" style="left:753.60px;width:80px;text-align:center;top:802.4000000000001px;font-size:10.14px;line-height:10.14px;font-weight:normal;transform:scaleX(0.94);transform-origin:center;color:#131722;">Nov</div><div class="t" style="left:819.40px;width:80px;text-align:center;top:802.4000000000001px;font-size:10.14px;line-height:10.14px;font-weight:normal;transform:scaleX(0.94);transform-origin:center;color:#131722;">Dez</div><div class="t" style="left:887.60px;width:80px;text-align:center;top:802.1px;font-size:10.43px;line-height:10.43px;font-weight:bold;transform:scaleX(1.035);transform-origin:center;color:#131722;-webkit-text-stroke:0.1px">2026</div>
<svg width="1024" height="817" style="top:0;left:0">
<path d="M12.8 773.1H21.9V784.7H17.2V777.8H12.8Z" fill="#131722"/>
<circle cx="25.5" cy="775.5" r="2.2" fill="#131722"/>
<path d="M30 773.1H35L30.9 784.7H25.9Z" fill="#131722"/>
<path d="M988 806 L990.4 801.8 H995.2 L997.6 806 L995.2 810.2 H990.4 Z" stroke="#131722" stroke-width="1.1" fill="none"/>
<circle cx="992.8" cy="806" r="1.2" stroke="#131722" stroke-width="1" fill="none"/>
<g>
<circle cx="909.3" cy="785.4" r="7.1" fill="#fff" stroke="#d9635a" stroke-width="1.6"/>
<clipPath id="c2"><circle cx="909.3" cy="785.4" r="4.9"/></clipPath>
<g clip-path="url(#c2)"><rect x="903" y="778" width="14" height="15" fill="#fff"/><rect x="903" y="780.2" width="14" height="1.5" fill="#d9635a"/><rect x="903" y="784.3" width="14" height="1.5" fill="#d9635a"/><rect x="903" y="788.4" width="14" height="1.6" fill="#d9635a"/><rect x="903" y="778" width="5.8" height="7" fill="#5b82e0"/></g>
<circle cx="897" cy="785.4" r="7.6" fill="#fff" stroke="#d9635a" stroke-width="1.6"/>
<clipPath id="c1"><circle cx="897" cy="785.4" r="5.3"/></clipPath>
<g clip-path="url(#c1)"><rect x="889" y="778" width="16" height="15" fill="#fff"/><rect x="889" y="780.2" width="16" height="1.5" fill="#d9635a"/><rect x="889" y="784.3" width="16" height="1.5" fill="#d9635a"/><rect x="889" y="788.4" width="16" height="1.6" fill="#d9635a"/><rect x="889" y="778" width="7.8" height="7" fill="#5b82e0"/></g>
</g>
</svg>
<div class="abs" style="left:0;top:0;width:1px;height:817px;background:#f6f6f6"></div>
<div class="abs" style="left:1px;top:0;width:3px;height:817px;background:#ececec"></div>
<div class="abs" style="left:1019.5px;top:1px;width:4.5px;height:816px;background:#ececec;border-radius:2px 2px 0 0"></div>
<div class="abs" style="left:0;top:815.5px;width:1024px;height:1.5px;background:#eeeeee"></div>
</body></html>
